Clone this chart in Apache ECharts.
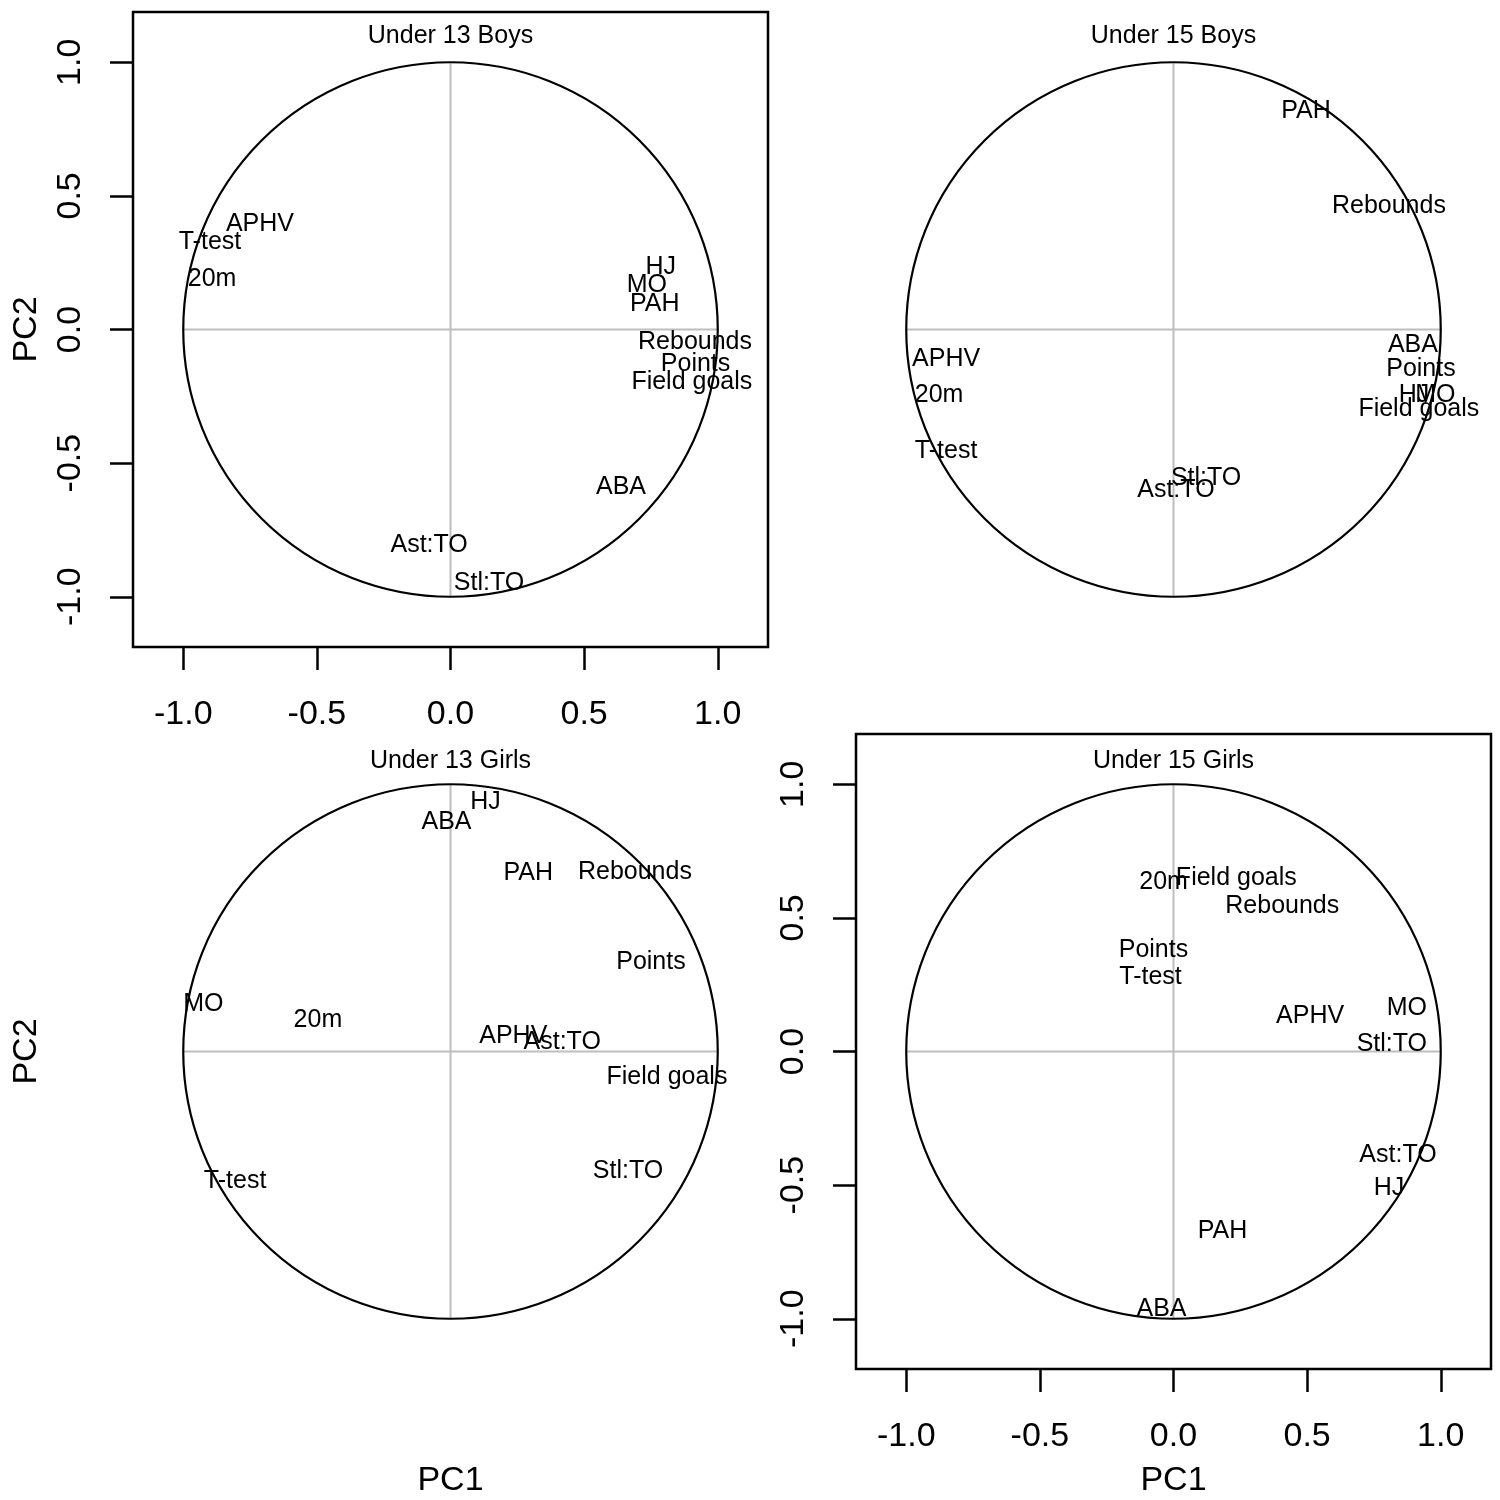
<!DOCTYPE html>
<html>
<head>
<meta charset="utf-8">
<script src="https://cdn.jsdelivr.net/npm/echarts@6/dist/echarts.min.js"></script>
<style>
  html, body { margin: 0; padding: 0; background: #fff; }
  #chart { width: 1500px; height: 1500px; }
</style>
</head>
<body>
<div id="chart"></div>
<script>
// PCA correlation circles, four age/sex groups (PC1 vs PC2 loadings)
const variables = ['APHV', 'T-test', '20m', 'HJ', 'MO', 'PAH', 'Rebounds', 'Points', 'Field goals', 'ABA', 'Ast:TO', 'Stl:TO'];

const panelTitles = ['Under 13 Boys', 'Under 15 Boys', 'Under 13 Girls', 'Under 15 Girls'];

// loadings, same order as variables
const u13BoysPC1 = [-0.713, -0.900, -0.892, 0.787, 0.735, 0.764, 0.915, 0.917, 0.903, 0.638, -0.080, 0.144];
const u13BoysPC2 = [0.395, 0.327, 0.189, 0.232, 0.166, 0.095, -0.049, -0.129, -0.195, -0.589, -0.806, -0.948];

const u15BoysPC1 = [-0.851, -0.851, -0.877, 0.900, 0.980, 0.496, 0.806, 0.926, 0.918, 0.896, 0.009, 0.122];
const u15BoysPC2 = [-0.110, -0.455, -0.245, -0.245, -0.245, 0.817, 0.462, -0.148, -0.297, -0.058, -0.600, -0.556];

const u13GirlsPC1 = [0.235, -0.806, -0.496, 0.131, -0.925, 0.291, 0.690, 0.750, 0.810, -0.015, 0.418, 0.664];
const u13GirlsPC2 = [0.056, -0.485, 0.116, 0.933, 0.179, 0.668, 0.672, 0.336, -0.097, 0.858, 0.034, -0.448];

const u15GirlsPC1 = [0.511, -0.086, -0.037, 0.806, 0.873, 0.183, 0.407, -0.075, 0.235, -0.045, 0.840, 0.817];
const u15GirlsPC2 = [0.131, 0.280, 0.634, -0.511, 0.164, -0.672, 0.545, 0.381, 0.649, -0.963, -0.388, 0.026];

const axisTicks = [-1, -0.5, 0, 0.5, 1];

const pc1Sets = [u13BoysPC1, u15BoysPC1, u13GirlsPC1, u15GirlsPC1];
const pc2Sets = [u13BoysPC2, u15BoysPC2, u13GirlsPC2, u15GirlsPC2];

const FONT = '"Liberation Sans", Arial, sans-serif';
const LIM = 1.188;   // R 的 4% 轴扩展

// 布局：哪几个面板画框和坐标轴
const gridPos = [
  { left: 133, top: 12 },
  { left: 856, top: 12 },
  { left: 133, top: 734 },
  { left: 856, top: 734 }
];
const framed = [true, false, false, true];
const xNames = ['', '', 'PC1', 'PC1'];
const yNames = ['PC2', '', 'PC2', ''];

// unit circle + cross through origin, drawn via the axis scales
function renderFrame(params, api) {
  const c = api.coord([0, 0]);
  const l = api.coord([-1, 0]);
  const r = api.coord([1, 0]);
  const t = api.coord([0, 1]);
  const b = api.coord([0, -1]);
  const grey = { stroke: '#bebebe', lineWidth: 2 };
  return {
    type: 'group',
    children: [
      { type: 'line', shape: { x1: l[0], y1: l[1], x2: r[0], y2: r[1] }, style: grey },
      { type: 'line', shape: { x1: t[0], y1: t[1], x2: b[0], y2: b[1] }, style: grey },
      { type: 'circle', shape: { cx: c[0], cy: c[1], r: r[0] - c[0] },
        style: { stroke: '#000', fill: 'none', lineWidth: 2.2 } }
    ]
  };
}

const grid = [], xAxis = [], yAxis = [], series = [], title = [];

gridPos.forEach(function (pos, i) {
  grid.push({
    left: pos.left, top: pos.top, width: 635, height: 635,
    show: framed[i], borderColor: '#000', borderWidth: 2.5, backgroundColor: 'transparent'
  });

  const tickCfg = {
    show: framed[i], length: 23, customValues: axisTicks,
    lineStyle: { color: '#000', width: 2.5 }
  };
  const labelCfg = {
    show: framed[i], customValues: axisTicks, fontSize: 34, fontFamily: FONT, color: '#000',
    formatter: function (v) { return v.toFixed(1); }
  };
  const nameStyle = { fontSize: 34, fontFamily: FONT, color: '#000' };

  xAxis.push({
    gridIndex: i, type: 'value', min: -LIM, max: LIM,
    splitLine: { show: false }, axisLine: { show: false, onZero: false },
    axisTick: tickCfg,
    axisLabel: Object.assign({ margin: 51 }, labelCfg),
    name: xNames[i], nameLocation: 'middle', nameGap: 95, nameTextStyle: nameStyle
  });
  yAxis.push({
    gridIndex: i, type: 'value', min: -LIM, max: LIM,
    splitLine: { show: false }, axisLine: { show: false, onZero: false },
    axisTick: tickCfg,
    axisLabel: Object.assign({ margin: 45, rotate: 90 }, labelCfg),
    name: yNames[i], nameLocation: 'middle', nameGap: 89, nameTextStyle: nameStyle
  });

  title.push({
    text: panelTitles[i],
    left: pos.left + 317.5, top: i < 2 ? 24 : 749, textAlign: 'center', padding: 0,
    textStyle: { fontSize: 25, fontWeight: 'normal', fontFamily: FONT, color: '#000' }
  });

  series.push({
    type: 'custom', xAxisIndex: i, yAxisIndex: i,
    data: [[0, 0]], renderItem: renderFrame, silent: true, z: 1
  });

  series.push({
    type: 'scatter', xAxisIndex: i, yAxisIndex: i, z: 3, silent: true,
    symbolSize: 0, itemStyle: { color: '#000', opacity: 1 },
    data: variables.map(function (name, k) {
      return { name: name, value: [pc1Sets[i][k], pc2Sets[i][k]] };
    }),
    label: {
      show: true, position: 'inside', formatter: '{b}',
      fontSize: 25, fontFamily: FONT, color: '#000', textBorderWidth: 0, opacity: 1
    },
    emphasis: { disabled: true }
  });
});

const chart = echarts.init(document.getElementById('chart'));
chart.setOption({
  animation: false,
  backgroundColor: '#fff',
  title: title,
  grid: grid,
  xAxis: xAxis,
  yAxis: yAxis,
  series: series
});
</script>
</body>
</html>
